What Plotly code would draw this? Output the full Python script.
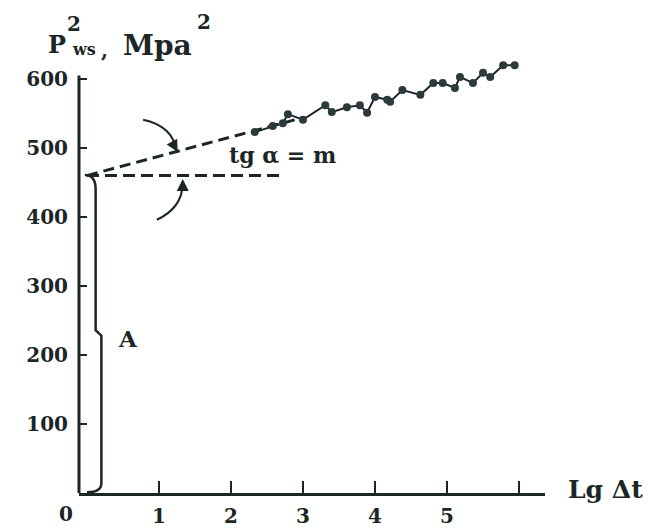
import plotly.graph_objects as go

# ---- data ----
lg_dt = [2.33, 2.58, 2.72, 2.79, 3.00, 3.31, 3.40, 3.61, 3.79, 3.89, 4.00, 4.17,
         4.21, 4.38, 4.63, 4.81, 4.94, 5.11, 5.18, 5.36, 5.50, 5.60, 5.78, 5.94]
pws2 = [523, 532, 536, 549, 541, 562, 552, 559, 562, 551, 574, 570,
        567, 584, 577, 594, 594, 587, 603, 594, 609, 603, 620, 620]
trend_x = [0.0, 3.0]
trend_y = [460, 544]
intercept_x = [0.0, 2.68]
intercept_y = [460, 460]
x_tick_vals = [1, 2, 3, 4, 5, 6]
x_tick_text = ["1", "2", "3", "4", "5", ""]
y_tick_vals = [100, 200, 300, 400, 500, 600]
y_tick_text = ["100", "200", "300", "400", "500", "600"]
y_axis_top = 605

INK = "#1c2626"
FONT = "DejaVu Serif"
W, H = 648, 531
L, R, T, B = 79, 545, 58, 493


def px(x):
    return (x - L) / (R - L)


def py(y):
    return (B - y) / (B - T)


fig = go.Figure()
fig.add_trace(go.Scatter(x=trend_x, y=trend_y, mode="lines",
                         line=dict(color=INK, width=3, dash="11px,6px"),
                         hoverinfo="skip", cliponaxis=False))
fig.add_trace(go.Scatter(x=intercept_x, y=intercept_y, mode="lines",
                         line=dict(color=INK, width=3, dash="12px,6px"),
                         hoverinfo="skip", cliponaxis=False))
fig.add_trace(go.Scatter(x=lg_dt, y=pws2, mode="lines+markers",
                         line=dict(color=INK, width=2),
                         marker=dict(color="#2b3b3b", size=8),
                         cliponaxis=False))

shapes = [
    # y axis line
    dict(type="line", xref="paper", yref="y", x0=0, x1=0, y0=0, y1=y_axis_top,
         line=dict(color=INK, width=3)),
    # bracket "A"
    dict(type="path", xref="x", yref="y",
         path="M -0.03,461 Q 0.12,461 0.12,440 L 0.12,236 L 0.2,228 L 0.2,14 Q 0.2,1 0.0,1",
         line=dict(color=INK, width=2.5)),
    # curved arrows
    dict(type="path", xref="x", yref="y",
         path="M 0.78,541 Q 1.18,532 1.24,498",
         line=dict(color=INK, width=2)),
    dict(type="path", xref="x", yref="y",
         path="M 0.97,396 Q 1.32,413 1.33,448",
         line=dict(color=INK, width=2)),
]

ann = []


def text(s, x, y, size, **kw):
    ann.append(dict(text="<b>" + s + "</b>", x=px(x), y=py(y), xref="paper", yref="paper",
                    showarrow=False, font=dict(family=FONT, size=size, color=INK),
                    xanchor="center", yanchor="middle", **kw))


text("P", 57, 44, 24)
text("ws", 84, 50, 16)
text(",", 104, 50, 20)
text("Mpa", 157, 45, 28)
text("2", 74, 24, 20)
text("2", 204, 22, 20)
text("tg α = m", 282, 155, 22)
text("A", 128, 338, 23)
text("Lg Δt", 605, 489, 25)
text("0", 66, 514, 20)

# arrow heads
ann.append(dict(x=1.26, y=494, xref="x", yref="y", ax=-5, ay=-9, text="",
                showarrow=True, arrowhead=2, arrowsize=1.2, arrowwidth=2, arrowcolor=INK))
ann.append(dict(x=1.33, y=455, xref="x", yref="y", ax=0, ay=10, text="",
                showarrow=True, arrowhead=2, arrowsize=1.2, arrowwidth=2, arrowcolor=INK))

fig.update_layout(
    width=W, height=H,
    margin=dict(l=L, r=W - R, t=T, b=H - B),
    paper_bgcolor="white", plot_bgcolor="white",
    showlegend=False,
    shapes=shapes, annotations=ann,
    xaxis=dict(range=[-0.111, 6.361], showgrid=False, zeroline=False, automargin=False,
               showline=True, linecolor=INK, linewidth=3,
               ticks="inside", ticklen=12, tickwidth=2, tickcolor=INK,
               tickvals=x_tick_vals, ticktext=x_tick_text,
               ticklabelstandoff=3,
               tickfont=dict(family=FONT, size=20, color=INK, weight="bold")),
    yaxis=dict(range=[0, 630.4], showgrid=False, zeroline=False, automargin=False,
               showline=False,
               ticks="inside", ticklen=8, tickwidth=2, tickcolor=INK,
               tickvals=y_tick_vals, ticktext=y_tick_text,
               ticklabelstandoff=10,
               tickfont=dict(family=FONT, size=20, color=INK, weight="bold")),
)

fig.write_html("out.html", config={"displayModeBar": False},
               post_script="document.body.style.margin='0';document.body.style.overflow='hidden';")
